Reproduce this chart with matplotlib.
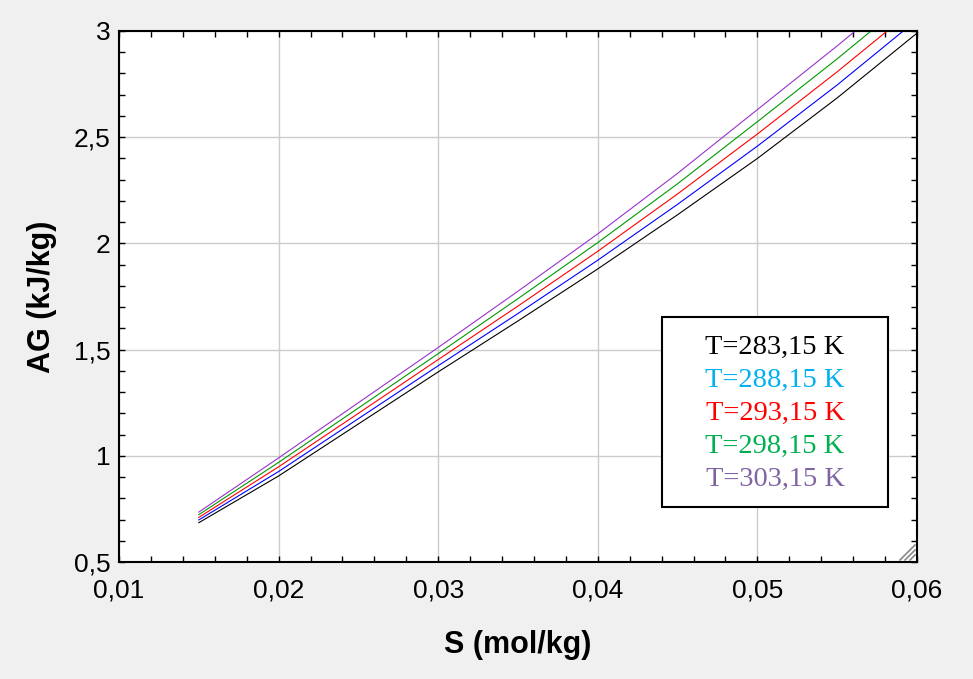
import matplotlib
matplotlib.use("Agg")
import matplotlib.pyplot as plt
from matplotlib.ticker import MultipleLocator, FuncFormatter
from matplotlib.patches import Rectangle

# S (mol/kg) and AG (kJ/kg)
S = [0.015, 0.02, 0.025, 0.03, 0.035, 0.04, 0.045, 0.05, 0.055, 0.06]
ag_283 = [0.685, 0.905, 1.150, 1.395, 1.635, 1.880, 2.135, 2.400, 2.685, 2.990]
ag_288 = [0.698, 0.926, 1.175, 1.424, 1.670, 1.921, 2.184, 2.458, 2.746, 3.053]
ag_293 = [0.710, 0.948, 1.200, 1.453, 1.705, 1.963, 2.233, 2.515, 2.808, 3.115]
ag_298 = [0.723, 0.969, 1.225, 1.481, 1.740, 2.004, 2.281, 2.573, 2.869, 3.178]
ag_303 = [0.735, 0.990, 1.250, 1.510, 1.775, 2.045, 2.330, 2.630, 2.930, 3.240]

labels = ["T=283,15 K", "T=288,15 K", "T=293,15 K", "T=298,15 K", "T=303,15 K"]
line_colors = ["black", "#0000ff", "#ff0000", "#009900", "#9933cc"]
text_colors = ["black", "#00b0f0", "#ff0000", "#00b050", "#8064a2"]
series = [ag_283, ag_288, ag_293, ag_298, ag_303]

fig = plt.figure(figsize=(9.73, 6.79), dpi=100, facecolor="#f0f0f0")
ax = fig.add_axes([119 / 973, 117 / 679, 798 / 973, 531 / 679])
ax.set_facecolor("white")

for y, c in zip(series, line_colors):
    ax.plot(S, y, color=c, lw=0.8)

ax.set_xlim(0.01, 0.06)
ax.set_ylim(0.5, 3)
ax.xaxis.set_major_locator(MultipleLocator(0.01))
ax.xaxis.set_minor_locator(MultipleLocator(0.002))
ax.yaxis.set_major_locator(MultipleLocator(0.5))
ax.yaxis.set_minor_locator(MultipleLocator(0.1))
ax.xaxis.set_major_formatter(FuncFormatter(lambda v, p: f"{v:.2f}".replace(".", ",")))
ax.yaxis.set_major_formatter(FuncFormatter(lambda v, p: f"{v:g}".replace(".", ",")))
ax.grid(True, which="major", color="#cccccc", lw=1)
ax.tick_params(which="both", direction="in", top=True, right=True, length=4, width=1)
ax.tick_params(axis="x", which="major", labelsize=19, pad=12)
ax.tick_params(axis="y", which="major", labelsize=19, pad=6)
for lab in ax.get_xticklabels() + ax.get_yticklabels():
    lab.set_family("Liberation Sans")
for sp in ax.spines.values():
    sp.set_linewidth(1.5)

ax.set_xlabel("S (mol/kg)", fontsize=22, fontweight="bold", family="Liberation Sans", labelpad=20)
ax.set_ylabel("AG (kJ/kg)", fontsize=22, fontweight="bold", family="Liberation Sans", labelpad=12)

# legend box
x0, x1 = (662 - 119) / 798, (888 - 119) / 798
y0, y1 = (562 - 507) / 531, (562 - 317) / 531
ax.add_patch(Rectangle((x0, y0), x1 - x0, y1 - y0, transform=ax.transAxes,
                       facecolor="white", edgecolor="black", lw=1.5, zorder=5))
for i, (lab, c) in enumerate(zip(labels, text_colors)):
    ty = (562 - (347 + 33 * i)) / 531
    ax.text((775 - 119) / 798, ty, lab, color=c, fontsize=20.5, family="Liberation Serif",
            ha="center", va="center", transform=ax.transAxes, zorder=6)

# resize grip in the corner
for p in (7, 12, 17):
    ax.plot([1 - p / 798, 1 - 2 / 798], [2 / 531, p / 531], color="#888888",
            lw=1.2, transform=ax.transAxes, clip_on=False, zorder=7)

fig.savefig("out.png", dpi=100, facecolor=fig.get_facecolor())
